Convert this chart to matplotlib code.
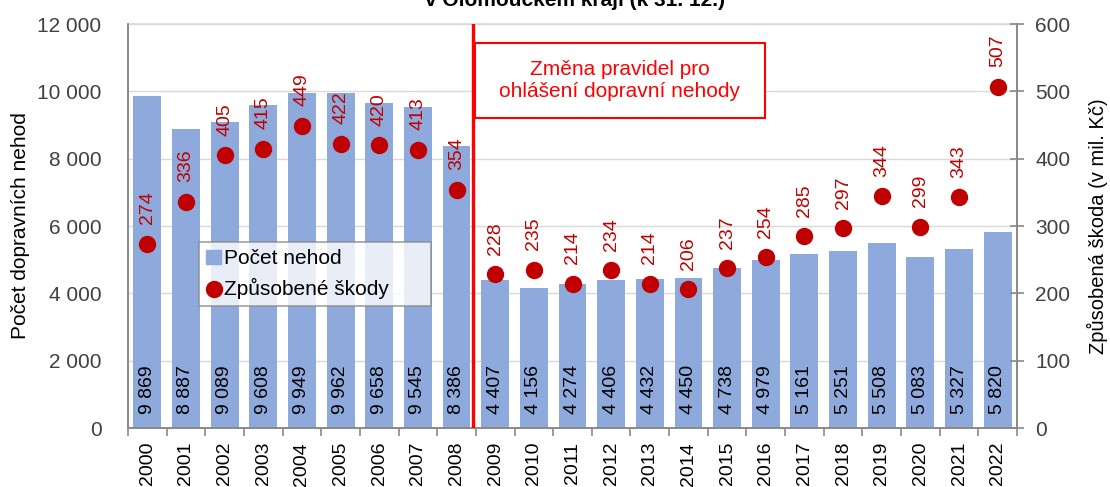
import numpy as np
import matplotlib.pyplot as plt

plt.rcParams['font.family'] = ['Liberation Sans', 'DejaVu Sans']

years = [str(y) for y in range(2000, 2023)]
nehody = [9869, 8887, 9089, 9608, 9949, 9962, 9658, 9545, 8386, 4407, 4156,
          4274, 4406, 4432, 4450, 4738, 4979, 5161, 5251, 5508, 5083, 5327, 5820]
skody = [274, 336, 405, 415, 449, 422, 420, 413, 354, 228, 235,
         214, 234, 214, 206, 237, 254, 285, 297, 344, 299, 343, 507]

bar_col = '#8EA9DB'
dot_col = '#C00000'
spine_col = '#898989'
txt_col = '#404040'

fig = plt.figure(figsize=(11.1, 4.87), dpi=100)
ax = fig.add_axes([128/1110, 59/487, 889/1110, 404/487])
ax2 = ax.twinx()

x = np.arange(len(years))
ax.bar(x, nehody, width=0.72, color=bar_col, zorder=2)
for xi, v in zip(x, nehody):
    lab = f"{v:,}".replace(",", " ")
    ax.text(xi, 420, lab, rotation=90, ha='center', va='bottom', fontsize=14, color='black', zorder=3)

ax.set_xlim(-0.5, len(years) - 0.5)
ax.set_ylim(0, 12000)
ax.set_yticks(range(0, 12001, 2000))
ax.set_yticklabels([f"{v:,}".replace(",", " ") for v in range(0, 12001, 2000)], fontsize=15, color=txt_col)
ax.yaxis.grid(True, color='#D9D9D9', linewidth=1, zorder=0)
ax.set_axisbelow(True)
ax.tick_params(axis='y', length=0, pad=19)
ax.set_xticks(x)
ax.set_xticklabels(years, rotation=90, fontsize=14, color='black')
ax.set_xticks(np.arange(-0.5, len(years), 1), minor=True)
ax.tick_params(axis='x', which='major', length=0, pad=10)
ax.tick_params(axis='x', which='minor', length=6, direction='out', color=spine_col, width=1.2)
ax.set_ylabel('Počet dopravních nehod', fontsize=15, color='black', labelpad=5)

ax2.scatter(x, skody, s=132, color=dot_col, zorder=4, label='Způsobené škody')
for xi, v in zip(x, skody):
    ax2.annotate(str(v), (xi, v), xytext=(0, 14), textcoords='offset points',
                 rotation=90, ha='center', va='bottom', fontsize=14, color=dot_col)
ax2.set_ylim(0, 600)
ax2.set_yticks(range(0, 601, 100))
ax2.set_yticklabels([str(v) for v in range(0, 601, 100)], fontsize=15, color=txt_col)
ax2.tick_params(axis='y', direction='inout', length=10, color=spine_col, width=1.2, pad=8)
ax2.set_ylabel('Způsobená škoda (v mil. Kč)', fontsize=14.5, color='black', labelpad=12)

for a in (ax, ax2):
    for s in a.spines.values():
        s.set_color(spine_col)
        s.set_linewidth(1.2)
ax.spines['top'].set_color('#D9D9D9')
ax2.spines['top'].set_visible(False)

ax2.axvline(8.42, color='#FF0000', linewidth=2.4, zorder=5)
box = plt.Rectangle((0.390, 0.767), 0.3265, 0.186, transform=ax.transAxes, fc='white',
                    ec='#FF0000', lw=1.5, zorder=6)
ax2.add_patch(box)
ax2.text(0.5534, 0.860, 'Změna pravidel pro\nohlášení dopravní nehody', transform=ax.transAxes,
         ha='center', va='center', fontsize=15, color='#FF0000', linespacing=1.15, zorder=7)

h1 = plt.Rectangle((0, 0), 1, 1, color=bar_col)
h2 = ax2.scatter([], [], s=132, color=dot_col)
leg = ax2.legend([h1, h2], ['Počet nehod', 'Způsobené škody      '], loc='upper left',
                 bbox_to_anchor=(0.08, 0.46), fontsize=15, frameon=True, fancybox=False,
                 edgecolor=spine_col, handlelength=0.7, handletextpad=0.15, borderpad=0.35,
                 labelspacing=0.45, borderaxespad=0)
leg.get_frame().set_linewidth(1.2)
leg.set_zorder(8)

fig.text(0.518, 1 - 6/487, 'v Olomouckém kraji (k 31. 12.)', ha='center', va='baseline',
         fontsize=15, fontweight='bold')

fig.savefig('out.png', dpi=100)
